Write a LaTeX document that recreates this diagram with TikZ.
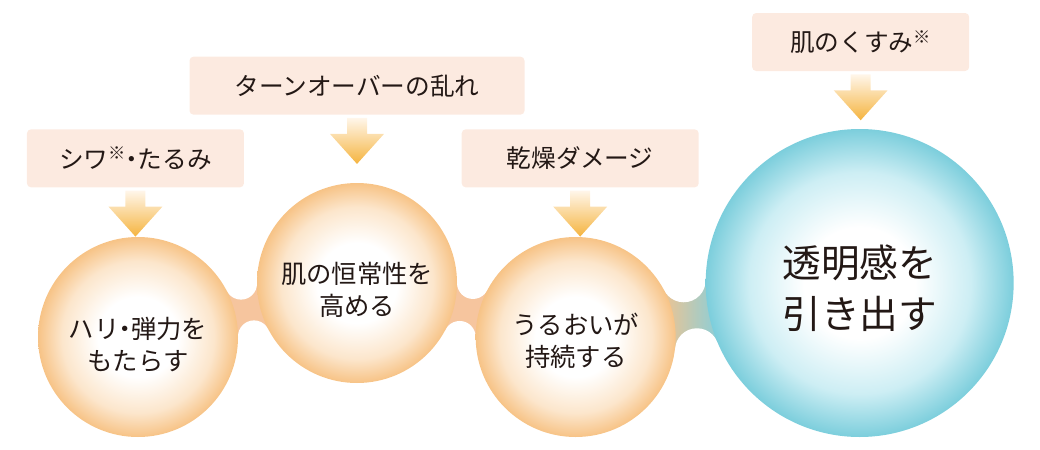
\documentclass[tikz,border=0pt]{standalone}
\usepackage{fontspec}
\setmainfont{Noto Sans CJK JP}
\usetikzlibrary{shapes.geometric, arrows, intersections, backgrounds}

\definecolor{boxfill}{HTML}{FCEAE0}
\definecolor{txt}{HTML}{231815}
\definecolor{orbedge}{HTML}{F7C386}
\definecolor{orbmid}{HTML}{FCE6CC}
\definecolor{aquaedge}{HTML}{7CCEDC}
\definecolor{aquamid}{HTML}{CDEEF4}
\definecolor{neckorange}{HTML}{F6C59E}
\definecolor{neckleft}{HTML}{F3C38E}
\definecolor{neckright}{HTML}{86CFDC}
\definecolor{arrowtop}{HTML}{FFF6EA}
\definecolor{arrowmid}{HTML}{F9CE84}
\definecolor{arrowbot}{HTML}{F5B43F}

\pgfdeclareradialshading{orbshade}{\pgfpointorigin}{color(0bp)=(white); color(10bp)=(white); color(19bp)=(orbmid); color(25bp)=(orbedge); color(50bp)=(orbedge)}
\pgfdeclareradialshading{aquashade}{\pgfpointorigin}{color(0bp)=(white); color(9bp)=(white); color(18bp)=(aquamid); color(25bp)=(aquaedge); color(50bp)=(aquaedge)}

\tikzstyle{cause} = [rectangle, rounded corners=3pt, fill=boxfill, minimum height=43.5pt, text centered, text=txt, font=\fontsize{18.5}{22}\selectfont]
\tikzstyle{orb} = [circle, shade, shading=orbshade, minimum size=150pt, inner sep=0pt]
\tikzstyle{bigorb} = [orb, shading=aquashade, minimum size=231pt]
\tikzstyle{orbtext} = [align=center, text=txt, font=\fontsize{19}{24}\selectfont]
\tikzstyle{bigtext} = [orbtext, font=\fontsize{29}{38.5}\selectfont]
\tikzstyle{push} = [top color=arrowtop, middle color=arrowmid, bottom color=arrowbot]

\newcommand{\nakaguro}{\kern-0.3em・\kern-0.25em}

% down arrow hanging under a cause box
\newcommand{\pusharrow}[1]{%
  \shade[push] ([yshift=-2.25pt]#1.south) ++(-7.5pt,0) -- ++(0,-12pt) -- ++(-12.75pt,0)
    -- ++(20.25pt,-22.5pt) -- ++(20.25pt,22.5pt) -- ++(-12.75pt,0) -- ++(0,12pt) -- cycle;}

% neck between two circles: names, radius+fillet of each, fillet, shading
\newcommand{\neckjoin}[6]{%
  \path[name path=ra] (#1.center) circle (#3);
  \path[name path=rb] (#2.center) circle (#4);
  \path[name intersections={of=ra and rb, by={fa,fb}}];
  \begin{scope}
    \clip (#1.center) -- (fa) -- (#2.center) -- (fb) -- cycle;
    \shade[#6] ([xshift=-12pt,yshift=-60pt]#1.east) rectangle ([xshift=12pt,yshift=60pt]#2.west);
  \end{scope}
  \fill[white] (fa) circle (#5) (fb) circle (#5);}

\begin{document}
\begin{tikzpicture}[x=0.75pt, y=0.75pt, node distance=164pt]

    \useasboundingbox (0,0) rectangle (1040,-450);

    \node (c1) [orb] at (138,-337) {};

    \node (c2) [orb, right of=c1, xshift=0.25pt, yshift=40.5pt] {};

    \node (c3) [orb, right of=c2, yshift=-40.5pt] {};

    \node (c4) [bigorb, right of=c3, xshift=49pt, yshift=40.5pt] {};

    \node (t1) [orbtext] at ([yshift=-5.5pt]c1.center) {ハリ\nakaguro 弾力を\\もたらす};
    \node (t2) [orbtext] at ([yshift=-5.5pt]c2.center) {肌の恒常性を\\高める};
    \node (t3) [orbtext] at ([yshift=-3pt]c3.center) {うるおいが\\持続する};
    \node (t4) [bigtext] at ([yshift=-4pt]c4.center) {透明感を\\引き出す};

    \node (b1) [cause, minimum width=162.75pt, above of=c1, xshift=-1.9pt, yshift=-30pt] {シワ\textsuperscript{※}\nakaguro たるみ};

    \node (b2) [cause, minimum width=251.25pt, above of=c2, yshift=-16pt] {ターンオーバーの乱れ};

    \node (b3) [cause, minimum width=177.75pt, above of=c3, xshift=3.4pt, yshift=-30pt] {乾燥ダメージ};

    \node (b4) [cause, minimum width=162.75pt, above of=c4, xshift=0.75pt, yshift=16.75pt] {肌のくすみ\textsuperscript{※}};

    \pusharrow{b1}
    \pusharrow{b2}
    \pusharrow{b3}
    \pusharrow{b4}

    \begin{pgfonlayer}{background}
        \neckjoin{c1}{c2}{116}{116}{16}{left color=neckorange, right color=neckorange}
        \neckjoin{c2}{c3}{116}{116}{16}{left color=neckorange, right color=neckorange}
        \neckjoin{c3}{c4}{122}{176}{22}{left color=neckleft, right color=neckright}
    \end{pgfonlayer}

\end{tikzpicture}
\end{document}
